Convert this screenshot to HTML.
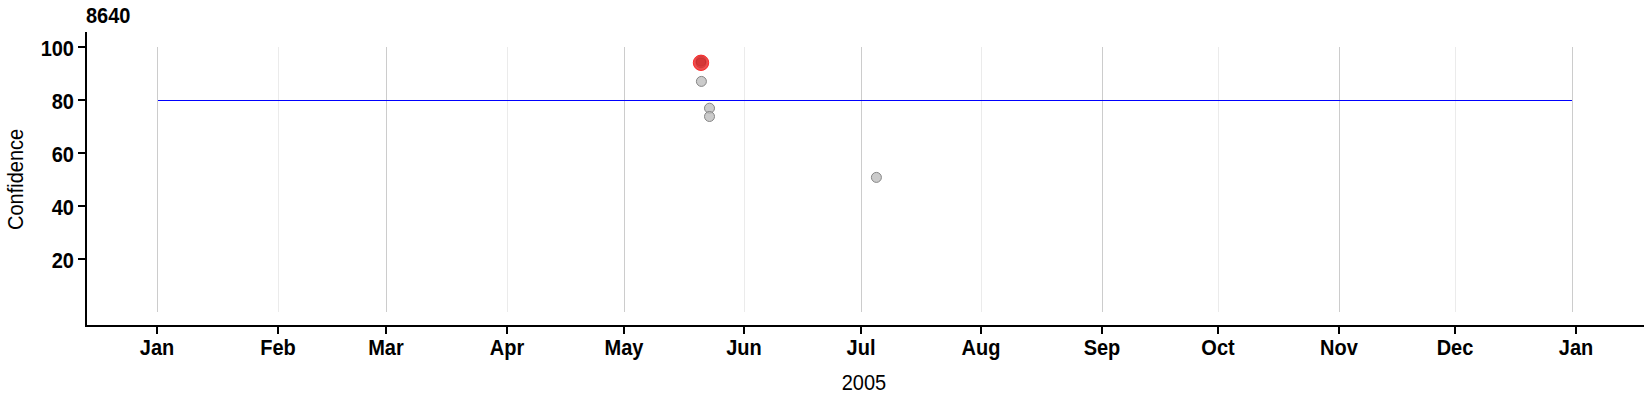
<!DOCTYPE html>
<html>
<head>
<meta charset="utf-8">
<title>8640</title>
<style>
html,body{margin:0;padding:0;background:#fff;}
body{width:1650px;height:400px;position:relative;overflow:hidden;font-family:"Liberation Sans",sans-serif;color:#000;}
.l{position:absolute;background:#000;}
.g{position:absolute;width:1px;top:47px;height:265px;background:#cccccc;}
.g.m{background:#ebebeb;}
.t{position:absolute;font-weight:bold;font-size:20px;line-height:20px;white-space:nowrap;transform:scaleY(1.07);transform-origin:0 17px;}
.xt{width:80px;margin-left:-40px;text-align:center;top:338px;}
.yt{width:60px;left:14px;text-align:right;}
svg{position:absolute;left:0;top:0;}
</style>
</head>
<body>
<div class="t" style="left:86px;top:6px;">8640</div>

<!-- gridlines -->
<div class="g" style="left:157px"></div>
<div class="g m" style="left:278px"></div>
<div class="g" style="left:386px"></div>
<div class="g m" style="left:507px"></div>
<div class="g" style="left:624px"></div>
<div class="g m" style="left:744px"></div>
<div class="g" style="left:861px"></div>
<div class="g m" style="left:981px"></div>
<div class="g" style="left:1102px"></div>
<div class="g m" style="left:1218px"></div>
<div class="g" style="left:1339px"></div>
<div class="g m" style="left:1455px"></div>
<div class="g" style="left:1572px"></div>
<!-- threshold line -->
<div class="l" style="left:158px;top:100px;width:1414px;height:1px;background:#0000ff;"></div>
<!-- axes -->
<div class="l" style="left:85px;top:32px;width:2px;height:295px;"></div>
<div class="l" style="left:85px;top:325px;width:1559px;height:2px;"></div>
<!-- y ticks -->
<div class="l" style="left:78px;top:46px;width:8px;height:2px;"></div>
<div class="t yt" style="top:39px;">100</div>
<div class="l" style="left:78px;top:99px;width:8px;height:2px;"></div>
<div class="t yt" style="top:92px;">80</div>
<div class="l" style="left:78px;top:152px;width:8px;height:2px;"></div>
<div class="t yt" style="top:145px;">60</div>
<div class="l" style="left:78px;top:205px;width:8px;height:2px;"></div>
<div class="t yt" style="top:198px;">40</div>
<div class="l" style="left:78px;top:258px;width:8px;height:2px;"></div>
<div class="t yt" style="top:251px;">20</div>
<!-- x ticks -->
<div class="l" style="left:156px;top:326px;width:2px;height:8px;"></div>
<div class="t xt" style="left:157px;">Jan</div>
<div class="l" style="left:277px;top:326px;width:2px;height:8px;"></div>
<div class="t xt" style="left:278px;">Feb</div>
<div class="l" style="left:385px;top:326px;width:2px;height:8px;"></div>
<div class="t xt" style="left:386px;">Mar</div>
<div class="l" style="left:506px;top:326px;width:2px;height:8px;"></div>
<div class="t xt" style="left:507px;">Apr</div>
<div class="l" style="left:623px;top:326px;width:2px;height:8px;"></div>
<div class="t xt" style="left:624px;">May</div>
<div class="l" style="left:743px;top:326px;width:2px;height:8px;"></div>
<div class="t xt" style="left:744px;">Jun</div>
<div class="l" style="left:860px;top:326px;width:2px;height:8px;"></div>
<div class="t xt" style="left:861px;">Jul</div>
<div class="l" style="left:980px;top:326px;width:2px;height:8px;"></div>
<div class="t xt" style="left:981px;">Aug</div>
<div class="l" style="left:1101px;top:326px;width:2px;height:8px;"></div>
<div class="t xt" style="left:1102px;">Sep</div>
<div class="l" style="left:1217px;top:326px;width:2px;height:8px;"></div>
<div class="t xt" style="left:1218px;">Oct</div>
<div class="l" style="left:1338px;top:326px;width:2px;height:8px;"></div>
<div class="t xt" style="left:1339px;">Nov</div>
<div class="l" style="left:1454px;top:326px;width:2px;height:8px;"></div>
<div class="t xt" style="left:1455px;">Dec</div>
<div class="l" style="left:1575px;top:326px;width:2px;height:8px;"></div>
<div class="t xt" style="left:1576px;">Jan</div>
<!-- axis titles -->
<div class="t" style="font-weight:normal;left:824px;top:373px;width:80px;text-align:center;">2005</div>
<div style="position:absolute;left:-34px;top:170px;width:100px;height:20px;transform:rotate(-90deg);transform-origin:50% 50%;"><div class="t" style="font-weight:normal;left:0;top:0;width:100px;text-align:center;">Confidence</div></div>

<svg width="1650" height="400" viewBox="0 0 1650 400">
  <g fill="#b9b9b9" fill-opacity="0.75" stroke="#868686" stroke-width="1">
  <circle cx="701.4" cy="81.4" r="5"/>
  <circle cx="709.5" cy="108.2" r="5"/>
  <circle cx="709.5" cy="116.5" r="5"/>
  <circle cx="876.4" cy="177.4" r="5"/>
  </g>
  <circle cx="701" cy="62.8" r="7.7" fill="#e81e1e" fill-opacity="0.78" stroke="#fb2a2a" stroke-width="1"/>
  <circle cx="701" cy="61.2" r="5" fill="#c02020" fill-opacity="0.3" stroke="#b02020" stroke-opacity="0.35" stroke-width="0.8"/>
  <circle cx="701" cy="62.9" r="5" fill="#c02020" fill-opacity="0.3" stroke="#b02020" stroke-opacity="0.35" stroke-width="0.8"/>
</svg>
</body>
</html>
